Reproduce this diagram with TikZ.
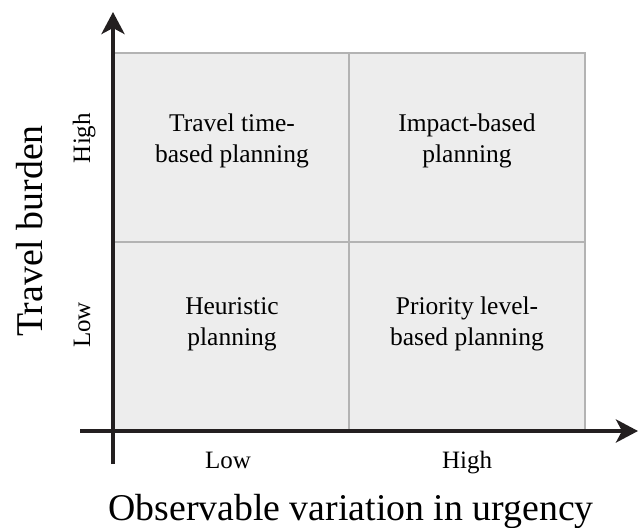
\documentclass[tikz,border=0pt]{standalone}
\usepackage{fontspec}
\setmainfont{Liberation Serif}
\usetikzlibrary{arrows.meta}
\definecolor{cellfill}{HTML}{EDEDED}
\definecolor{cellline}{HTML}{B3B3B3}
\definecolor{axisdark}{HTML}{231F20}

\begin{document}
\begin{tikzpicture}[x=1pt,y=-1pt,
    axis/.style={line width=4pt,axisdark,-{Stealth[length=22pt,width=23pt,inset=6pt]}},
    divider/.style={line width=1.3pt,cellline},
    cell/.style={align=center,font=\fontsize{25.5}{31}\selectfont},
    tick/.style={font=\fontsize{25}{30}\selectfont},
    title/.style={font=\fontsize{37.8}{44}\selectfont}]
  \useasboundingbox (0,0) rectangle (641,528);
  % quadrant grid
  \coordinate (nw) at (113,53);
  \coordinate (ne) at (585,53);
  \coordinate (se) at (585,431);
  \coordinate (nmid) at (349,53);
  \coordinate (smid) at (349,431);
  \coordinate (wmid) at (113,242);
  \coordinate (emid) at (585,242);
  \fill[cellfill] (nw) rectangle (se);
  \draw[divider] (nw) -- (ne) -- (se);
  \draw[divider] (nmid) -- (smid);
  \draw[divider] (wmid) -- (emid);
  % axes
  \coordinate (ybot) at (113,464);
  \coordinate (ytop) at (113,12);
  \coordinate (xleft) at (80,431);
  \coordinate (xright) at (638,431);
  \draw[axis] (ybot) -- (ytop);
  \draw[axis] (xleft) -- (xright);
  % quadrant labels
  \node[cell] (tl) at (232,141) {Travel time-\\based planning};
  \node[cell] (tr) at (467,141) {Impact-based\\planning};
  \node[cell] (bl) at (232,324) {Heuristic\\planning};
  \node[cell] (br) at (467,324) {Priority level-\\based planning};
  % ticks
  \node[tick,anchor=base] (xlow) at (228,468) {Low};
  \node[tick,anchor=base] (xhigh) at (467,468) {High};
  \node[tick,rotate=90,anchor=base] (yhigh) at (90,138) {High};
  \node[tick,rotate=90,anchor=base] (ylow) at (90,325) {Low};
  % axis titles
  \node[title,anchor=base] (xtitle) at (351,520) {Observable variation in urgency};
  \node[title,rotate=90,anchor=base] (ytitle) at (42,231) {Travel burden};
\end{tikzpicture}
\end{document}
